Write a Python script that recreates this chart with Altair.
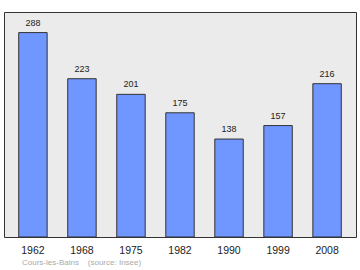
import altair as alt
import pandas as pd

years = ["1962", "1968", "1975", "1982", "1990", "1999", "2008"]
population = [288, 223, 201, 175, 138, 157, 216]
footer_text = ["Cours-les-Bains\u00a0\u00a0\u00a0\u00a0(source: Insee)"]

df = pd.DataFrame({"year": years, "pop": population})

x = alt.X("year:N", sort=years,
          scale=alt.Scale(paddingInner=0.42, paddingOuter=0.3),
          axis=alt.Axis(title=None, labelAngle=0, ticks=False, domain=False,
                        labelFontSize=10.5, labelColor="#222", labelFont="Liberation Sans",
                        labelPadding=8))
y = alt.Y("pop:Q", scale=alt.Scale(domain=[0, 317], nice=False), axis=None)

bars = alt.Chart(df).mark_bar(fill="#7096ff", stroke="#333", strokeWidth=1).encode(x=x, y=y)
labels = alt.Chart(df).mark_text(dy=-10, fontSize=9, color="#222", font="Liberation Sans",
                                 baseline="middle").encode(x=x, y=y, text="pop:Q")

footer = alt.Chart(pd.DataFrame({"t": footer_text})).mark_text(
    fontSize=8, color="#aaa", font="Liberation Sans", align="left", baseline="middle"
).encode(x=alt.value(18), y=alt.value(251), text="t:N")

chart = alt.layer(bars, labels, footer).properties(
    width=352, height=225,
    autosize=alt.AutoSizeParams(type="none"),
    padding={"left": 4, "top": 12, "right": 4, "bottom": 33},
    background="white",
).configure_view(fill="#ebebeb", stroke="#333", strokeWidth=1)

chart.save("out.html", embed_options={"renderer": "svg", "actions": False})
